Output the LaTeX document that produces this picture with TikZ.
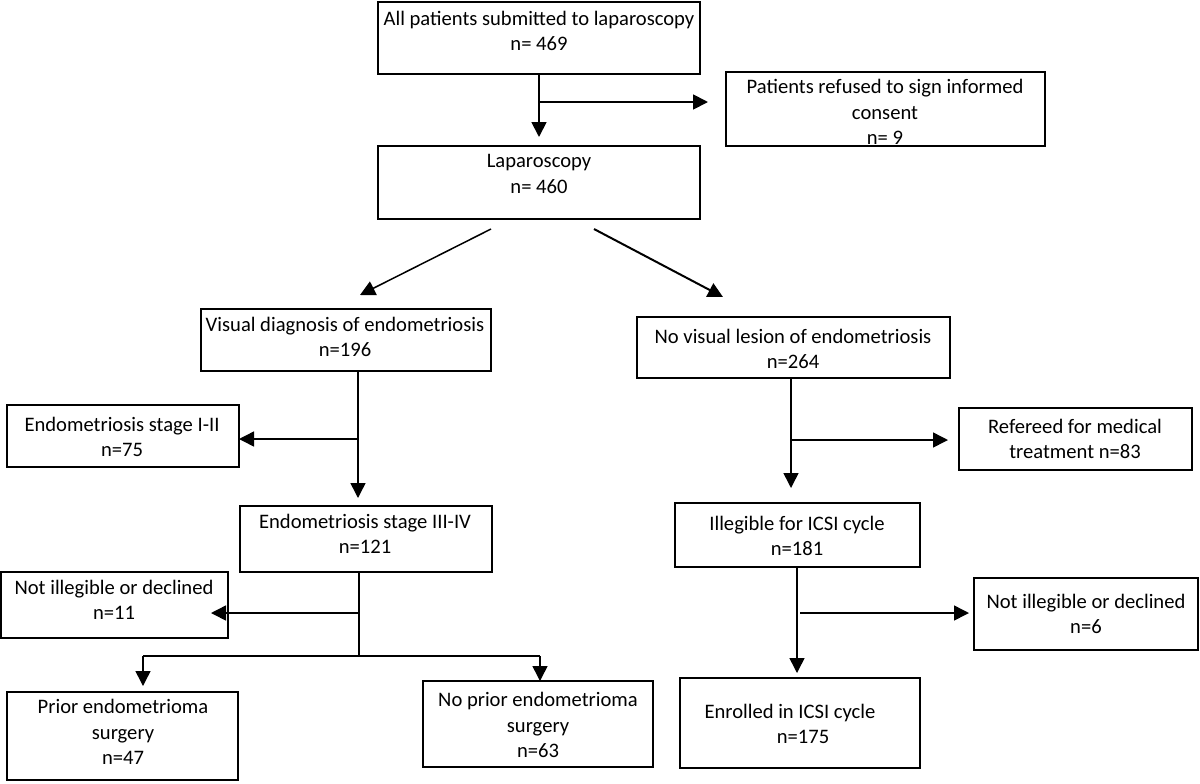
\documentclass[tikz,border=0pt]{standalone}
\usepackage{fontspec}
\setmainfont{Carlito}
\usetikzlibrary{arrows.meta}
\tikzset{
  boxst/.style={draw=black, line width=1.3pt, rectangle, inner sep=0pt, outer sep=0pt},
  txt/.style={align=center, inner sep=0pt, font=\fontsize{10.3}{12.8}\selectfont},
  conn/.style={draw=black, line width=0.75pt},
  arr/.style={conn, -{Triangle[length=7.5pt,width=7.5pt]}},
}
\newcommand\mkbox[5]{\node[boxst, minimum width={(#4-#2)*0.5pt}, minimum height={(#5-#3)*0.5pt}] (#1) at ({(#2+#4)/2},{(#3+#5)/2}) {};}
\begin{document}
\begin{tikzpicture}[x=0.5pt, y=-0.5pt]
\useasboundingbox (0,0) rectangle (1200,783);
% boxes
\mkbox{b1}{378}{2}{700}{74}
\mkbox{b2}{726}{72}{1045}{146}
\mkbox{b3}{378}{146}{700}{219}
\mkbox{b4}{201}{309}{491}{371}
\mkbox{b5}{637}{317}{950}{378}
\mkbox{b6}{7}{405}{239}{467}
\mkbox{b7}{240}{506}{492}{572}
\mkbox{b8}{1}{572}{228}{638}
\mkbox{b9}{7}{692}{238}{780}
\mkbox{b10}{423}{681}{653}{767}
\mkbox{b11}{959}{408}{1192}{470}
\mkbox{b12}{675}{503}{920}{567}
\mkbox{b13}{974}{578}{1198}{650}
\mkbox{b14}{680}{678}{920}{768}
% texts
\node[txt] (t1) at (539,31) {All patients submitted to laparoscopy\\n= 469};
\node[txt] (t2) at (885,112) {Patients refused to sign informed\\consent\\n= 9};
\node[txt] (t3) at (539,174) {Laparoscopy\\n= 460};
\node[txt] (t4) at (345,337) {Visual diagnosis of endometriosis\\n=196};
\node[txt] (t5) at (793,349) {No visual lesion of endometriosis\\n=264};
\node[txt] (t6) at (122,437) {Endometriosis stage I-II\\n=75};
\node[txt] (t7) at (365,534) {Endometriosis stage III-IV\\n=121};
\node[txt] (t8) at (114,600) {Not illegible or declined\\n=11};
\node[txt] (t9) at (123,732) {Prior endometrioma\\surgery\\n=47};
\node[txt] (t10) at (538,725) {No prior endometrioma\\surgery\\n=63};
\node[txt] (t11) at (1075,439) {Refereed for medical\\treatment n=83};
\node[txt] (t12) at (797,536) {Illegible for ICSI cycle\\n=181};
\node[txt] (t13) at (1086,614) {Not illegible or declined\\n=6};
\node[txt] (t14) at (790,724) {Enrolled in ICSI cycle\\\hspace*{13pt}n=175};
% junction coordinates
\coordinate (j1) at (539,102);
\coordinate (d1s) at (491,229);
\coordinate (d1e) at (360,295);
\coordinate (d2s) at (594,229);
\coordinate (d2e) at (723,297);
\coordinate (j4) at (358,439);
\coordinate (j7a) at (359,613);
\coordinate (j7b) at (359,656);
\coordinate (jl) at (143,656);
\coordinate (jr) at (540,656);
\coordinate (j5) at (791,440);
\coordinate (j12) at (800,613);
% connectors
\draw[arr, line width=0.9pt] (b1.south) -- ([yshift=4.5pt]b3.north);
\draw[arr, line width=0.9pt] (j1) -- ([xshift=-9pt]b2.west |- j1);
\draw[arr] (d1s) -- (d1e);
\draw[arr, line width=1pt] (d2s) -- (d2e);
\draw[arr] (b4.south -| j4) -- ([yshift=4pt]b7.north -| j4);
\draw[arr] (j4) -- (b6.east |- j4);
\draw[conn] (b7.south -| j7a) -- (j7b);
\draw[arr] (j7a) -- ([xshift=-8.5pt]b8.east |- j7a);
\draw[conn] (jl) -- (jr);
\draw[arr] (jl) -- ([yshift=3pt]b9.north -| jl);
\draw[arr] (jr) -- (b10.north -| jr);
\draw[arr] (b5.south -| j5) -- ([yshift=7.5pt]b12.north -| j5);
\draw[arr] (j5) -- ([xshift=-5.5pt]b11.west |- j5);
\draw[arr] (b12.south -| 797,0) -- ([yshift=2.5pt]b14.north -| 797,0);
\draw[arr] (j12) -- ([xshift=-2.5pt]b13.west |- j12);
\end{tikzpicture}
\end{document}
